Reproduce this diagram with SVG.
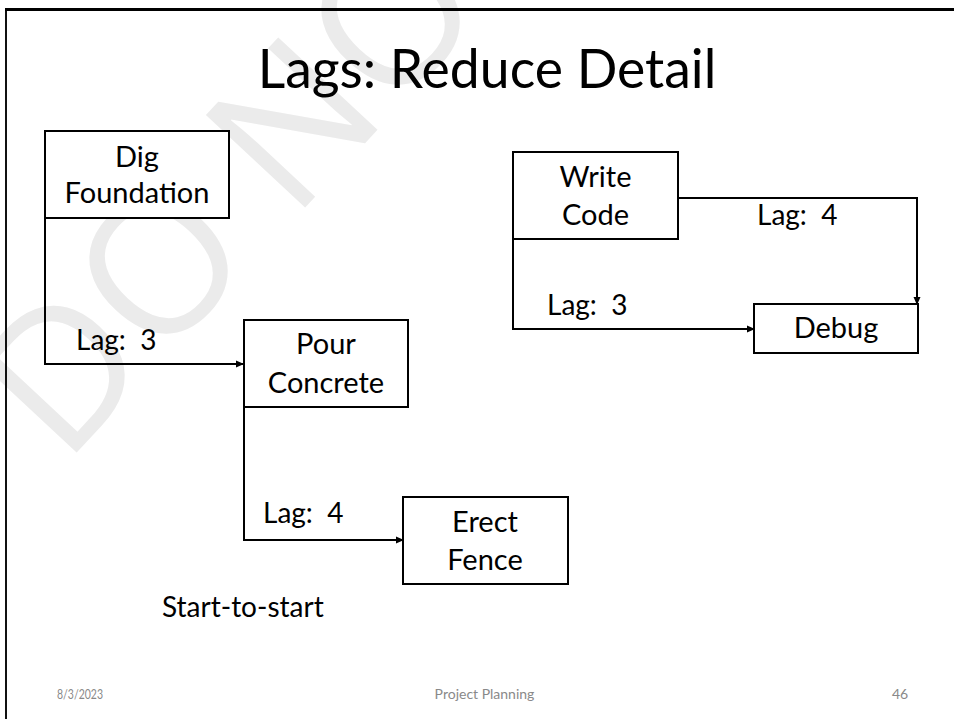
<svg xmlns="http://www.w3.org/2000/svg" width="954" height="719" viewBox="0 0 954 719">
<defs>
<style>
.t{font-family:Lato,"Open Sans","Liberation Sans",sans-serif;fill:#000}
.n{font-size:29px;text-anchor:middle}
.lag{font-size:28px}
.box{fill:#fff;stroke:#000;stroke-width:2}
.c{fill:none;stroke:#000;stroke-width:2}
.f{font-family:Lato,"Open Sans","Liberation Sans",sans-serif;font-size:14px;fill:#898989}
</style>
<marker id="ah" markerWidth="8" markerHeight="8" refX="7" refY="4" orient="auto" markerUnits="userSpaceOnUse">
<path d="M0,0.5 L8,4 L0,7.5 Z" fill="#000"/>
</marker>
</defs>
<rect width="954" height="719" fill="#fff"/>
<text transform="translate(64,466) rotate(-47)" font-family="'Open Sans',sans-serif" font-size="190" fill="#ebebeb">DO NOT COPY</text>
<line x1="6" y1="719" x2="6" y2="9" stroke="#111" stroke-width="2"/>
<line x1="5" y1="9.5" x2="954" y2="9.5" stroke="#000" stroke-width="3"/>
<text class="t" x="487" y="88" font-size="53.5" text-anchor="middle">Lags: Reduce Detail</text>
<g id="connectors">
<path class="c" d="M45,200 V364 H243" marker-end="url(#ah)"/>
<path class="c" d="M244,407 V540 H403" marker-end="url(#ah)"/>
<path class="c" d="M678,198 H917 V304" marker-end="url(#ah)"/>
<path class="c" d="M513,225 V329 H754" marker-end="url(#ah)"/>
<text class="t lag" x="76" y="350">Lag:&#160; 3</text>
<text class="t lag" x="263" y="523">Lag:&#160; 4</text>
<text class="t lag" x="757" y="225">Lag:&#160; 4</text>
<text class="t lag" x="547" y="315">Lag:&#160; 3</text>
</g>
<g id="dig">
<rect class="box" x="45" y="131" width="184" height="87"/>
<text class="t n" x="137" y="167">Dig</text>
<text class="t n" x="137" y="203">Foundation</text>
</g>
<g id="pour">
<rect class="box" x="244" y="320" width="164" height="87"/>
<text class="t n" x="326" y="354">Pour</text>
<text class="t n" x="326" y="393">Concrete</text>
</g>
<g id="fence">
<rect class="box" x="403" y="497" width="165" height="87"/>
<text class="t n" x="485" y="532">Erect</text>
<text class="t n" x="485" y="570">Fence</text>
</g>
<g id="write">
<rect class="box" x="513" y="152" width="165" height="87"/>
<text class="t n" x="595.5" y="187">Write</text>
<text class="t n" x="595.5" y="225">Code</text>
</g>
<g id="debug">
<rect class="box" x="754" y="304" width="164" height="49"/>
<text class="t n" x="836" y="338">Debug</text>
</g>
<text class="t lag" x="162" y="617">Start-to-start</text>
<text class="f" x="57" y="699" textLength="46" lengthAdjust="spacingAndGlyphs">8/3/2023</text>
<text class="f" x="484.5" y="699" text-anchor="middle">Project Planning</text>
<text class="f" x="892" y="699">46</text>
</svg>
